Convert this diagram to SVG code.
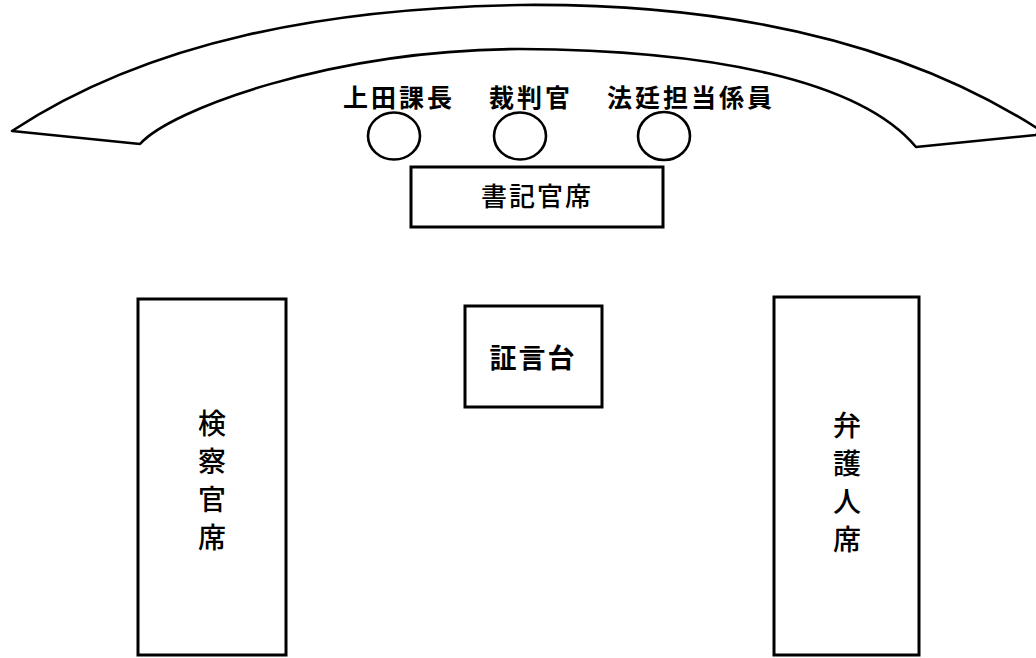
<svg xmlns="http://www.w3.org/2000/svg" width="1036" height="658" viewBox="0 0 1036 658">
<style>
.ln{fill:none;stroke:#000;stroke-width:2.6;stroke-linejoin:round}
.bx{fill:#fff;stroke:#000;stroke-width:3}
.t{font-family:"Noto Sans CJK JP","Liberation Sans",sans-serif;fill:#000}
.lb{font-size:25px;font-weight:bold;letter-spacing:3px}
.md{font-weight:500}
.vt{writing-mode:vertical-rl;font-size:28px;letter-spacing:10px}
</style>
<rect width="1036" height="658" fill="#fff"/>
<g id="bench">
<path class="ln" d="M12,131 C150,40 330,8 520,5 C720,3 900,40 1040,130 L1036,135 L916,147 C860,80 710,50 520,49 C330,50 170,110 140,144 Z"/>
</g>
<g id="labels">
<text class="t lb" x="343" y="107">上田課長</text>
<text class="t lb" x="489" y="107">裁判官</text>
<text class="t lb" x="607" y="107">法廷担当係員</text>
</g>
<g id="seat-ueda"><ellipse class="ln" cx="394" cy="136" rx="26" ry="23.5"/></g>
<g id="seat-judge"><ellipse class="ln" cx="520" cy="136" rx="26" ry="23.5"/></g>
<g id="seat-clerk"><ellipse class="ln" cx="664" cy="136" rx="26" ry="24"/></g>
<g id="shokikan">
<rect class="bx" x="411" y="167" width="252" height="60"/>
<text class="t md" x="537" y="206" font-size="26" text-anchor="middle" letter-spacing="2">書記官席</text>
</g>
<g id="shogendai">
<rect class="bx" x="465" y="306" width="137" height="101"/>
<text class="t" x="533" y="368" font-size="27" font-weight="bold" text-anchor="middle" letter-spacing="2">証言台</text>
</g>
<g id="kensatsukan">
<rect class="bx" x="138" y="299" width="148" height="356"/>
<text class="t md vt" x="212" y="409">検察官席</text>
</g>
<g id="bengonin">
<rect class="bx" x="774" y="297" width="145" height="358"/>
<text class="t md vt" x="847" y="411">弁護人席</text>
</g>
<g id="connectors"></g>
</svg>
